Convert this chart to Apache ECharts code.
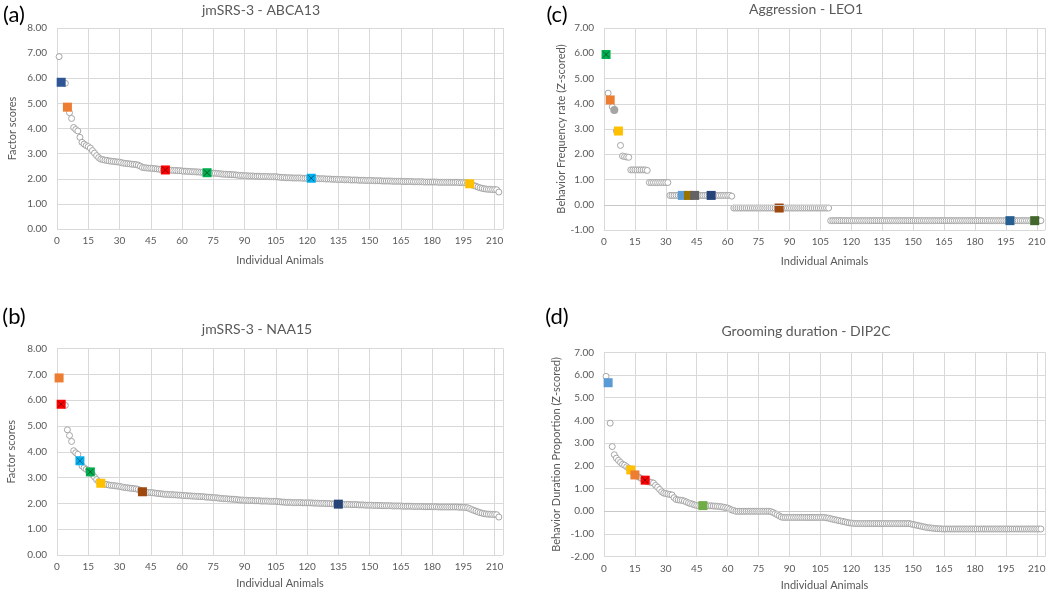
<!DOCTYPE html>
<html><head><meta charset="utf-8">
<script src="https://cdn.jsdelivr.net/npm/echarts@6/dist/echarts.min.js"></script>
<style>html,body{margin:0;padding:0;background:#fff}#c{width:1050px;height:594px}</style>
</head><body><div id="c"></div>
<script>
// ---- DATA ----
// jmSRS-3 factor scores, sorted (shared by panels a and b)
const jmSRS3 = [
6.86,5.84,5.82,5.80,4.85,4.63,4.40,4.04,3.96,3.90,
3.65,3.45,3.38,3.32,3.28,3.22,3.12,3.02,2.92,2.84,
2.78,2.76,2.74,2.73,2.71,2.70,2.69,2.68,2.67,2.66,
2.64,2.62,2.61,2.60,2.59,2.58,2.57,2.56,2.54,2.50,
2.45,2.44,2.43,2.42,2.42,2.41,2.40,2.39,2.38,2.37,
2.36,2.35,2.35,2.34,2.34,2.33,2.33,2.32,2.32,2.31,
2.30,2.30,2.29,2.29,2.28,2.28,2.27,2.27,2.26,2.26,
2.25,2.24,2.24,2.23,2.22,2.22,2.21,2.20,2.19,2.18,
2.18,2.17,2.17,2.16,2.16,2.15,2.14,2.13,2.13,2.12,
2.12,2.11,2.11,2.11,2.10,2.10,2.10,2.09,2.09,2.09,
2.09,2.08,2.08,2.08,2.08,2.07,2.06,2.05,2.05,2.04,
2.04,2.04,2.03,2.03,2.03,2.03,2.03,2.02,2.02,2.02,
2.02,2.02,2.01,2.01,2.01,2.00,2.00,2.00,1.99,1.99,
1.99,1.98,1.98,1.98,1.97,1.97,1.97,1.96,1.96,1.96,
1.95,1.95,1.95,1.95,1.94,1.94,1.94,1.93,1.93,1.93,
1.93,1.92,1.92,1.92,1.92,1.91,1.91,1.91,1.91,1.91,
1.90,1.90,1.90,1.90,1.90,1.89,1.89,1.89,1.89,1.89,
1.88,1.88,1.88,1.88,1.88,1.87,1.87,1.87,1.87,1.87,
1.87,1.87,1.86,1.86,1.86,1.86,1.86,1.86,1.86,1.86,
1.86,1.86,1.85,1.85,1.85,1.84,1.83,1.80,1.76,1.73,
1.70,1.67,1.64,1.62,1.60,1.59,1.58,1.58,1.57,1.57,
1.56,1.47];

// Aggression behavior frequency rate (Z-scored), sorted
const aggressionLEO1 = [
5.95,4.42,4.15,3.88,3.75,2.93,2.92,2.35,1.93,1.91,
1.89,1.88,1.38,1.38,1.38,1.38,1.38,1.38,1.38,1.38,
1.36,0.88,0.88,0.88,0.88,0.88,0.88,0.88,0.88,0.88,
0.88,0.37,0.37,0.37,0.37,0.37,0.37,0.37,0.37,0.37,
0.37,0.37,0.37,0.37,0.37,0.37,0.37,0.37,0.37,0.37,
0.37,0.37,0.37,0.37,0.37,0.37,0.37,0.37,0.37,0.37,
0.37,0.34,-0.13,-0.13,-0.13,-0.13,-0.13,-0.13,-0.13,-0.13,
-0.13,-0.13,-0.13,-0.13,-0.13,-0.13,-0.13,-0.13,-0.13,-0.13,
-0.13,-0.13,-0.13,-0.13,-0.13,-0.13,-0.13,-0.13,-0.13,-0.13,
-0.13,-0.13,-0.13,-0.13,-0.13,-0.13,-0.13,-0.13,-0.13,-0.13,
-0.13,-0.13,-0.13,-0.13,-0.13,-0.13,-0.13,-0.13,-0.13,-0.63,
-0.63,-0.63,-0.63,-0.63,-0.63,-0.63,-0.63,-0.63,-0.63,-0.63,
-0.63,-0.63,-0.63,-0.63,-0.63,-0.63,-0.63,-0.63,-0.63,-0.63,
-0.63,-0.63,-0.63,-0.63,-0.63,-0.63,-0.63,-0.63,-0.63,-0.63,
-0.63,-0.63,-0.63,-0.63,-0.63,-0.63,-0.63,-0.63,-0.63,-0.63,
-0.63,-0.63,-0.63,-0.63,-0.63,-0.63,-0.63,-0.63,-0.63,-0.63,
-0.63,-0.63,-0.63,-0.63,-0.63,-0.63,-0.63,-0.63,-0.63,-0.63,
-0.63,-0.63,-0.63,-0.63,-0.63,-0.63,-0.63,-0.63,-0.63,-0.63,
-0.63,-0.63,-0.63,-0.63,-0.63,-0.63,-0.63,-0.63,-0.63,-0.63,
-0.63,-0.63,-0.63,-0.63,-0.63,-0.63,-0.63,-0.63,-0.63,-0.63,
-0.63,-0.63,-0.63,-0.63,-0.63,-0.63,-0.63,-0.63,-0.63,-0.63,
-0.63,-0.63];

// Grooming duration proportion (Z-scored), sorted
const groomingDIP2C = [
5.94,5.66,3.88,2.85,2.49,2.34,2.24,2.15,2.07,2.03,
1.96,1.90,1.82,1.72,1.60,1.55,1.50,1.45,1.40,1.37,
1.30,1.29,1.27,1.24,1.14,1.06,0.96,0.86,0.80,0.78,
0.76,0.74,0.72,0.60,0.52,0.50,0.49,0.48,0.45,0.41,
0.37,0.34,0.31,0.28,0.26,0.25,0.25,0.25,0.25,0.24,
0.24,0.24,0.23,0.23,0.22,0.21,0.20,0.18,0.16,0.14,
0.10,0.06,0.03,0.00,0.00,0.00,0.00,0.00,0.00,0.00,
0.00,0.00,0.00,0.00,0.00,0.00,0.00,0.00,0.00,0.00,
-0.02,-0.05,-0.10,-0.15,-0.20,-0.25,-0.27,-0.27,-0.27,-0.27,
-0.27,-0.27,-0.27,-0.27,-0.27,-0.27,-0.27,-0.27,-0.27,-0.27,
-0.27,-0.27,-0.27,-0.27,-0.27,-0.27,-0.27,-0.29,-0.30,-0.33,
-0.35,-0.37,-0.39,-0.41,-0.43,-0.45,-0.47,-0.49,-0.51,-0.52,
-0.53,-0.54,-0.54,-0.54,-0.54,-0.54,-0.54,-0.54,-0.54,-0.54,
-0.54,-0.54,-0.54,-0.54,-0.54,-0.54,-0.54,-0.54,-0.54,-0.54,
-0.54,-0.54,-0.54,-0.54,-0.54,-0.54,-0.54,-0.54,-0.56,-0.58,
-0.60,-0.62,-0.64,-0.66,-0.68,-0.70,-0.72,-0.73,-0.74,-0.75,
-0.76,-0.77,-0.77,-0.78,-0.78,-0.78,-0.78,-0.78,-0.78,-0.78,
-0.78,-0.78,-0.78,-0.78,-0.78,-0.78,-0.78,-0.78,-0.78,-0.78,
-0.78,-0.78,-0.78,-0.78,-0.78,-0.78,-0.78,-0.78,-0.78,-0.78,
-0.78,-0.78,-0.78,-0.78,-0.78,-0.78,-0.78,-0.78,-0.78,-0.78,
-0.78,-0.78,-0.78,-0.78,-0.78,-0.78,-0.78,-0.78,-0.78,-0.78,
-0.78,-0.78];

// highlighted animals (rank positions)
const highlightA = [2, 5, 52, 72, 122, 198];
const highlightB = [1, 2, 11, 16, 21, 41, 135];
const highlightC = [1, 3, 5, 7, 38, 41, 44, 52, 85, 197, 209];
const highlightD = [2, 13, 15, 20, 48];

const panelTitles = ['jmSRS-3 - ABCA13', 'jmSRS-3 - NAA15', 'Aggression - LEO1', 'Grooming duration - DIP2C'];
const panelLetters = ['(a)', '(b)', '(c)', '(d)'];
const yNames = ['Factor scores', 'Factor scores', 'Behavior Frequency rate (Z-scored)', 'Behavior Duration Proportion (Z-scored)'];
const xName = 'Individual Animals';

// ---- STYLE / LAYOUT ----
const FONT = 'Lato, "Open Sans", sans-serif';
const colorsA = ['#2F5597', '#ED7D31', '#FF0000', '#00B050', '#00B0F0', '#FFC000'];
const crossA = [0, 0, 1, 1, 1, 0];
const colorsB = ['#ED7D31', '#FF0000', '#00B0F0', '#00B050', '#FFC000', '#9E480E', '#264478'];
const crossB = [0, 1, 1, 1, 0, 0, 0];
const colorsC = ['#00B050', '#ED7D31', '#A5A5A5', '#FFC000', '#5B9BD5', '#997300', '#636363', '#264478', '#9E480E', '#255E91', '#43682B'];
const crossC = [1, 0, 0, 0, 0, 0, 0, 0, 0, 0, 0];
const circleC = [0, 0, 1, 0, 0, 0, 0, 0, 0, 0, 0];
const colorsD = ['#5B9BD5', '#FFC000', '#ED7D31', '#FF0000', '#70AD47'];
const crossD = [0, 0, 0, 1, 0];

const grids = [
  {left: 57, top: 28, width: 446, height: 201},
  {left: 57, top: 348.5, width: 446, height: 206.5},
  {left: 604, top: 28, width: 441, height: 202},
  {left: 604, top: 352.3, width: 441, height: 204.4}
];
const yRanges = [[0, 8], [0, 8], [-1, 7], [-2, 7]];
const yNameGaps = [39, 40, 37, 42];
const xNameGaps = [26, 23, 26, 23];

const panels = [
  {data: jmSRS3, hl: highlightA, col: colorsA, cross: crossA},
  {data: jmSRS3, hl: highlightB, col: colorsB, cross: crossB},
  {data: aggressionLEO1, hl: highlightC, col: colorsC, cross: crossC, circ: circleC},
  {data: groomingDIP2C, hl: highlightD, col: colorsD, cross: crossD}
];

const gridColor = '#D9D9D9';
const textColor = '#595959';

const xAxes = grids.map((g, i) => ({
  type: 'value', gridIndex: i, min: 0, max: 214, interval: 15,
  name: xName, nameLocation: 'middle', nameGap: xNameGaps[i],
  nameTextStyle: {fontFamily: FONT, fontSize: 11, color: textColor},
  axisLine: {show: false}, axisTick: {show: false},
  axisLabel: {fontFamily: FONT, fontSize: 10, color: textColor, margin: 7, showMaxLabel: false,
    formatter: v => (v % 15 === 0 ? String(v) : '')},
  splitLine: {show: true, lineStyle: {color: gridColor, width: 1}}
}));
const yAxes = grids.map((g, i) => ({
  type: 'value', gridIndex: i, min: yRanges[i][0], max: yRanges[i][1], interval: 1,
  name: yNames[i], nameLocation: 'middle', nameGap: yNameGaps[i], nameRotate: 90,
  nameTextStyle: {fontFamily: FONT, fontSize: 11, color: textColor},
  axisLine: {show: false}, axisTick: {show: false},
  axisLabel: {fontFamily: FONT, fontSize: 10, color: textColor, margin: 10,
    formatter: v => v.toFixed(2)},
  splitLine: {show: true, lineStyle: {color: gridColor, width: 1}}
}));

const series = [];
panels.forEach((p, i) => {
  const base = {
    type: 'scatter', xAxisIndex: i, yAxisIndex: i, z: 2, silent: true,
    symbol: 'circle', symbolSize: 6,
    itemStyle: {color: '#ffffff', borderColor: '#A6A6A6', borderWidth: 1, opacity: 1},
    data: p.data.map((v, k) => [k + 1, v])
  };
  if (yRanges[i][0] < 0) {
    base.markLine = {silent: true, symbol: 'none', label: {show: false},
      lineStyle: {color: '#C8C8C8', width: 1, type: 'solid'}, data: [{yAxis: 0}], animation: false};
  }
  series.push(base);
  series.push({
    type: 'scatter', xAxisIndex: i, yAxisIndex: i, z: 3, silent: true,
    data: p.hl.map((x, j) => {
      const isCirc = p.circ && p.circ[j];
      return {value: [x, p.data[x - 1]], symbol: isCirc ? 'circle' : 'rect',
        symbolSize: isCirc ? 8 : 9, itemStyle: {color: p.col[j], borderWidth: 0, opacity: 1}};
    })
  });
  series.push({
    type: 'scatter', xAxisIndex: i, yAxisIndex: i, z: 4, silent: true,
    symbol: 'path://M0,0L10,10M10,0L0,10', symbolSize: 6,
    itemStyle: {color: 'transparent', borderColor: 'rgba(0,0,0,0.45)', borderWidth: 1, opacity: 1},
    data: p.hl.filter((x, j) => p.cross[j]).map(x => [x, p.data[x - 1]])
  });
});

const titlePos = [[261, 10], [257, 329], [806, 9], [806, 331]];
const letterPos = [[14, 15], [14, 317], [557, 15], [557, 317]];
const graphic = [];
panelTitles.forEach((t, i) => graphic.push({type: 'text', x: titlePos[i][0], y: titlePos[i][1], silent: true,
  style: {text: t, fontFamily: FONT, fontSize: 14, fill: textColor, align: 'center', verticalAlign: 'middle', textAlign: 'center', textVerticalAlign: 'middle'}}));
panelLetters.forEach((t, i) => graphic.push({type: 'text', x: letterPos[i][0], y: letterPos[i][1], silent: true,
  style: {text: t, fontFamily: FONT, fontSize: 22, fill: '#000000', align: 'center', verticalAlign: 'middle', textAlign: 'center', textVerticalAlign: 'middle'}}));

const chart = echarts.init(document.getElementById('c'), null, {renderer: 'canvas'});
chart.setOption({
  animation: false,
  backgroundColor: '#ffffff',
  grid: grids,
  xAxis: xAxes,
  yAxis: yAxes,
  series: series,
  graphic: graphic
});
</script>
</body></html>
